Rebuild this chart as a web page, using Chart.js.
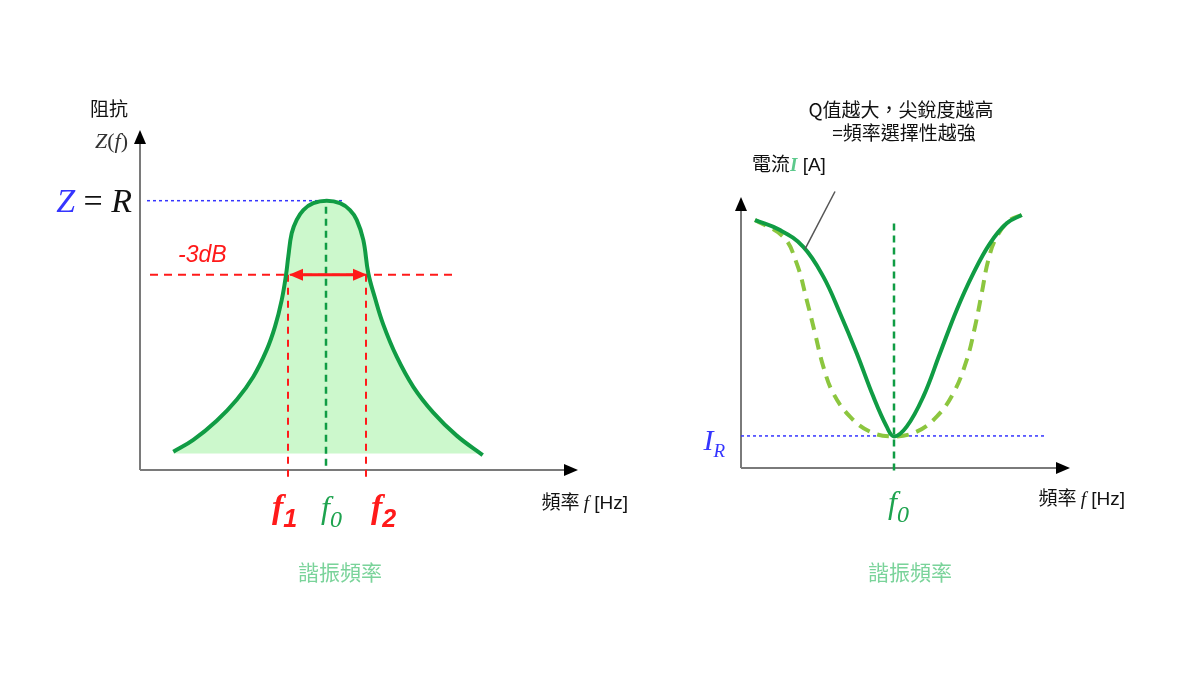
<!DOCTYPE html>
<html>
<head>
<meta charset="utf-8">
<script src="https://cdn.jsdelivr.net/npm/chart.js@4.4.1/dist/chart.umd.min.js"></script>
<style>
  html, body { margin: 0; padding: 0; background: #fff; }
  #wrap { position: relative; width: 1200px; height: 675px; }
  canvas { position: absolute; top: 0; }
  #left { left: 0; }
  #right { left: 600px; }
</style>
</head>
<body>
<div id="wrap">
  <canvas id="left" width="660" height="675"></canvas>
  <canvas id="right" width="600" height="675"></canvas>
</div>
<script>
// ---- left: impedance Z(f), arbitrary units (Z = R -> 100)
const zFreq  = [3.33, 5.33, 7.67, 9.67, 11.33, 12.67, 13.5, 14.17, 14.6, 14.83, 15.17, 15.67, 16.33, 17.33, 18.67,
                20.0, 21.0, 21.67, 22.33, 22.83, 23.5, 24.33, 25.67, 27.33, 29.33, 31.67, 34.27];
const zValue = [0.7, 5.4, 13.0, 21.3, 30.4, 41.0, 50.2, 60.7, 70.6, 77.9, 87.1, 92.4, 96.3, 99.0, 100,
                99.0, 96.3, 92.4, 84.5, 71.3, 61.5, 51.0, 38.3, 26.4, 16.2, 7.1, -0.6];
const zR = 100;
const minus3dB = 70.7;
const zF0 = 18.6, zF1 = 14.8, zF2 = 22.6;

// ---- right: current I(f), low Q (solid) and high Q (dashed)
const iFreqLowQ  = [1.4, 3.9, 6.23, 8.23, 9.9, 11.57, 13.23, 14.57, 15.3, 16.57, 18.23, 19.9, 21.57, 23.23, 24.9, 26.57, 28.07];
const iLowQ      = [99.0, 95.0, 88.3, 76.4, 61.8, 45.8, 28.5, 16.5, 12.6, 16.5, 28.5, 45.8, 63.1, 77.7, 89.7, 97.7, 101.0];
const iFreqHighQ = [1.4, 4.23, 5.57, 6.57, 7.4, 8.23, 9.23, 10.9, 12.9, 15.23, 17.57, 19.57, 21.23, 22.57, 23.4, 24.07, 24.73, 25.57, 26.9, 28.07];
const iHighQ     = [99.0, 92.3, 81.7, 67.1, 53.8, 40.5, 29.8, 20.5, 14.5, 12.6, 14.5, 20.5, 29.8, 43.1, 56.4, 69.7, 83.0, 92.3, 99.0, 101.0];
const iR = 12.8;
const iF0 = 15.3;

const CJK = '"Noto Sans CJK TC", sans-serif';
const SANS = '"Liberation Sans", Arial, sans-serif';
const SERIF = '"Liberation Serif", "DejaVu Serif", serif';
const GREEN = '#109c44';
const LIGHT = '#8cc63f';
const RED = '#ff1a1a';
const BLUE = '#3535ff';

const pts = (xs, ys) => xs.map((x, i) => ({ x: x, y: ys[i] }));

function drawRuns(ctx, x, y, runs, align) {
  let total = 0;
  runs.forEach(r => { ctx.font = r[1]; total += ctx.measureText(r[0]).width; });
  let cx = align === 'right' ? x - total : align === 'center' ? x - total / 2 : x;
  ctx.textAlign = 'left';
  ctx.textBaseline = 'alphabetic';
  runs.forEach(r => {
    ctx.font = r[1];
    ctx.fillStyle = r[2];
    ctx.fillText(r[0], cx, y + (r[3] || 0));
    cx += ctx.measureText(r[0]).width;
  });
}

function drawAxes(chart, topTip, rightTip) {
  const ctx = chart.ctx, a = chart.chartArea;
  const y0 = chart.scales.y.getPixelForValue(chart.scales.y.min);
  ctx.save();
  ctx.strokeStyle = '#7a7a7a';
  ctx.lineWidth = 2;
  ctx.beginPath();
  ctx.moveTo(a.left, y0);
  ctx.lineTo(a.left, a.top - topTip + 12);
  ctx.moveTo(a.left, y0);
  ctx.lineTo(a.right + rightTip - 12, y0);
  ctx.stroke();
  ctx.fillStyle = '#000';
  ctx.beginPath();
  ctx.moveTo(a.left, a.top - topTip);
  ctx.lineTo(a.left - 6, a.top - topTip + 14);
  ctx.lineTo(a.left + 6, a.top - topTip + 14);
  ctx.closePath();
  ctx.fill();
  ctx.beginPath();
  ctx.moveTo(a.right + rightTip, y0);
  ctx.lineTo(a.right + rightTip - 14, y0 - 6);
  ctx.lineTo(a.right + rightTip - 14, y0 + 6);
  ctx.closePath();
  ctx.fill();
  ctx.restore();
}

const baseOptions = (padding, xMax, yMin, yMax) => ({
  responsive: false,
  animation: false,
  layout: { padding: padding },
  elements: { point: { radius: 0 } },
  plugins: {
    legend: { display: false },
    tooltip: { enabled: false },
    filler: { drawTime: 'beforeDatasetsDraw' }
  },
  scales: {
    x: { type: 'linear', display: false, min: 0, max: xMax },
    y: { type: 'linear', display: false, min: yMin, max: yMax }
  }
});

// ---------------- left chart
const leftLabels = {
  id: 'leftLabels',
  beforeDatasetsDraw(chart) { drawAxes(chart, 10, 18); },
  afterDatasetsDraw(chart) {
    const ctx = chart.ctx, xs = chart.scales.x, ys = chart.scales.y;
    const yl = ys.getPixelForValue(minus3dB);
    const x1 = xs.getPixelForValue(zF1) + 1, x2 = xs.getPixelForValue(zF2) + 1;
    // -3dB double arrow
    ctx.save();
    ctx.strokeStyle = RED; ctx.fillStyle = RED; ctx.lineWidth = 3;
    ctx.beginPath(); ctx.moveTo(x1 + 10, yl); ctx.lineTo(x2 - 10, yl); ctx.stroke();
    ctx.beginPath(); ctx.moveTo(x1, yl); ctx.lineTo(x1 + 14, yl - 6); ctx.lineTo(x1 + 14, yl + 6); ctx.closePath(); ctx.fill();
    ctx.beginPath(); ctx.moveTo(x2, yl); ctx.lineTo(x2 - 14, yl - 6); ctx.lineTo(x2 - 14, yl + 6); ctx.closePath(); ctx.fill();
    ctx.restore();

    const yTop = ys.getPixelForValue(zR);
    drawRuns(ctx, 109, 116, [['阻抗', '19px ' + CJK, '#111']], 'center');
    drawRuns(ctx, 128, 148, [
      ['Z', 'italic 22px ' + SERIF, '#333'], ['(', '22px ' + SERIF, '#333'],
      ['f', 'italic 22px ' + SERIF, '#333'], [')', '22px ' + SERIF, '#333']], 'right');
    drawRuns(ctx, 132, yTop + 11, [
      ['Z', 'italic 34px ' + SERIF, BLUE], [' = ', '34px ' + SERIF, '#111'],
      ['R', 'italic 34px ' + SERIF, '#111']], 'right');
    drawRuns(ctx, 178, yl - 13, [['-3dB', 'italic 23px ' + SANS, RED]], 'left');

    const yf = 518;
    drawRuns(ctx, xs.getPixelForValue(zF1) - 16, yf, [
      ['f', 'bold italic 34px ' + SERIF, RED], ['1', 'bold italic 25px ' + SANS, RED, 9]], 'left');
    drawRuns(ctx, xs.getPixelForValue(zF0) - 5, yf, [
      ['f', 'italic 32px ' + SERIF, '#1ea34f'], ['0', 'italic 24px ' + SERIF, '#1ea34f', 9]], 'left');
    drawRuns(ctx, xs.getPixelForValue(zF2) + 5, yf, [
      ['f', 'bold italic 34px ' + SERIF, RED], ['2', 'bold italic 25px ' + SANS, RED, 9]], 'left');

    drawRuns(ctx, 628, 509, [
      ['頻率 ', '19px ' + CJK, '#111'], ['f', 'italic 19px ' + SERIF, '#111'],
      [' [Hz]', '19px ' + SANS, '#111']], 'right');
    drawRuns(ctx, 340, 580, [['諧振頻率', '21px ' + CJK, '#7ad39a']], 'center');
  }
};

new Chart(document.getElementById('left'), {
  type: 'scatter',
  data: {
    datasets: [
      { data: pts(zFreq, zValue), showLine: true, borderColor: GREEN, borderWidth: 4,
        tension: 0.4, fill: 'origin', backgroundColor: '#ccf8cc' },
      { data: [{ x: zF0, y: 97.6 }, { x: zF0, y: -6.5 }], showLine: true,
        borderColor: GREEN, borderWidth: 2.5, borderDash: [7, 5], clip: false },
      { data: [{ x: zF1, y: minus3dB }, { x: zF1, y: -11.2 }], showLine: true,
        borderColor: RED, borderWidth: 2, borderDash: [7, 6], clip: false },
      { data: [{ x: zF2, y: minus3dB }, { x: zF2, y: -11.2 }], showLine: true,
        borderColor: RED, borderWidth: 2, borderDash: [7, 6], clip: false },
      { data: [{ x: 1.0, y: minus3dB }, { x: 31.5, y: minus3dB }], showLine: true,
        borderColor: RED, borderWidth: 2, borderDash: [8, 6], clip: false },
      { data: [{ x: 0.7, y: zR }, { x: 20.5, y: zR }], showLine: true,
        borderColor: BLUE, borderWidth: 1.5, borderDash: [3, 3], clip: false }
    ]
  },
  options: baseOptions({ left: 140, top: 140, right: 100, bottom: 205 }, 42, -6.5, 124),
  plugins: [leftLabels]
});

// ---------------- right chart
const rightLabels = {
  id: 'rightLabels',
  beforeDatasetsDraw(chart) { drawAxes(chart, 8, 15); },
  afterDatasetsDraw(chart) {
    const ctx = chart.ctx, xs = chart.scales.x, ys = chart.scales.y;
    const ox = 600; // canvas offset on the page
    drawRuns(ctx, 901 - ox, 117, [['Q值越大，尖銳度越高', '19px ' + CJK, '#111']], 'center');
    drawRuns(ctx, 904 - ox, 140, [['=頻率選擇性越強', '19px ' + CJK, '#111']], 'center');
    drawRuns(ctx, 752 - ox, 171, [
      ['電流', '19px ' + CJK, '#111'], ['I', 'bold italic 19px ' + SERIF, '#5cc98c'],
      [' [A]', '19px ' + SANS, '#111']], 'left');

    ctx.save();
    ctx.strokeStyle = '#555'; ctx.lineWidth = 1.5;
    ctx.beginPath();
    ctx.moveTo(xs.getPixelForValue(9.4), ys.getPixelForValue(110.4));
    ctx.lineTo(xs.getPixelForValue(6.4), ys.getPixelForValue(87.4));
    ctx.stroke();
    ctx.restore();

    const yI = ys.getPixelForValue(iR);
    drawRuns(ctx, 725 - ox, yI + 14, [
      ['I', 'italic 30px ' + SERIF, BLUE], ['R', 'italic 19px ' + SERIF, BLUE, 7]], 'right');
    drawRuns(ctx, xs.getPixelForValue(iF0) - 6, 513, [
      ['f', 'italic 32px ' + SERIF, '#1ea34f'], ['0', 'italic 24px ' + SERIF, '#1ea34f', 9]], 'left');
    drawRuns(ctx, 1125 - ox, 505, [
      ['頻率 ', '19px ' + CJK, '#111'], ['f', 'italic 19px ' + SERIF, '#111'],
      [' [Hz]', '19px ' + SANS, '#111']], 'right');
    drawRuns(ctx, 910 - ox, 580, [['諧振頻率', '21px ' + CJK, '#7ad39a']], 'center');
  }
};

new Chart(document.getElementById('right'), {
  type: 'scatter',
  data: {
    datasets: [
      { data: pts(iFreqLowQ, iLowQ), showLine: true, borderColor: GREEN, borderWidth: 4,
        tension: 0.4, clip: false },
      { data: pts(iFreqHighQ, iHighQ), showLine: true, borderColor: LIGHT, borderWidth: 4,
        borderDash: [12, 8], tension: 0.4, clip: false },
      { data: [{ x: iF0, y: 97.6 }, { x: iF0, y: -1.6 }], showLine: true,
        borderColor: GREEN, borderWidth: 2.5, borderDash: [7, 5], clip: false },
      { data: [{ x: 0, y: iR }, { x: 30.4, y: iR }], showLine: true,
        borderColor: BLUE, borderWidth: 1.5, borderDash: [3, 3], clip: false }
    ]
  },
  options: baseOptions({ left: 141, top: 205, right: 145, bottom: 207 }, 31.4, 0, 105),
  plugins: [rightLabels]
});
</script>
</body>
</html>
